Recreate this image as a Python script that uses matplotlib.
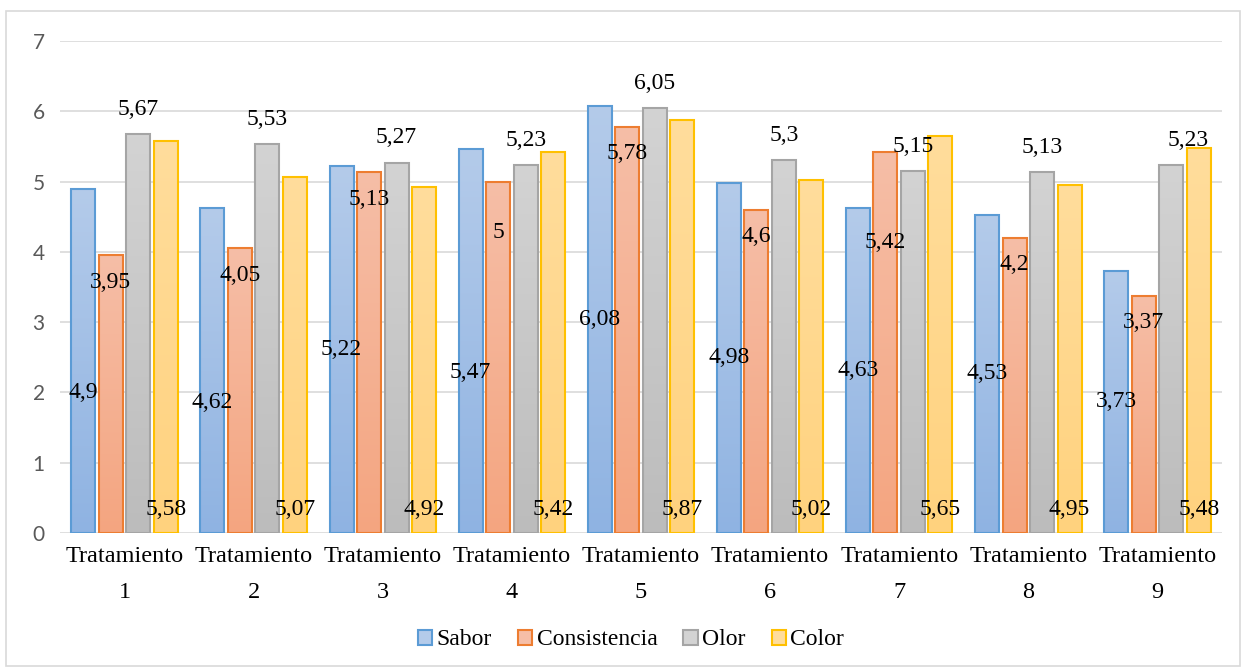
import matplotlib
matplotlib.use('Agg')
import matplotlib.pyplot as plt
import numpy as np
from matplotlib.colors import LinearSegmentedColormap
from matplotlib.patches import Rectangle, Patch

categories = ['Tratamiento\n1', 'Tratamiento\n2', 'Tratamiento\n3', 'Tratamiento\n4',
              'Tratamiento\n5', 'Tratamiento\n6', 'Tratamiento\n7', 'Tratamiento\n8',
              'Tratamiento\n9']
sabor = [4.9, 4.62, 5.22, 5.47, 6.08, 4.98, 4.63, 4.53, 3.73]
consistencia = [3.95, 4.05, 5.13, 5.0, 5.78, 4.6, 5.42, 4.2, 3.37]
olor = [5.67, 5.53, 5.27, 5.23, 6.05, 5.3, 5.15, 5.13, 5.23]
color = [5.58, 5.07, 4.92, 5.42, 5.87, 5.02, 5.65, 4.95, 5.48]

series = [
    ('Sabor', sabor, '#5b9bd5', '#b4cbea', '#8fb3e2'),
    ('Consistencia', consistencia, '#ed7d31', '#f6bea7', '#f4a580'),
    ('Olor', olor, '#a5a5a5', '#d3d3d3', '#bcbcbc'),
    ('Color', color, '#ffc000', '#ffdd9c', '#ffd27e'),
]

serif = ['Liberation Serif', 'DejaVu Serif']
sans = ['Lato', 'DejaVu Sans']

fig = plt.figure(figsize=(12.42, 6.70), dpi=100)
ax = fig.add_axes([60 / 1242, 137 / 670, 1162 / 1242, 492 / 670])

x = np.arange(len(categories))
stride = 0.213
width = 0.186

bars = []
for i, (name, vals, edge, top, bottom) in enumerate(series):
    off = (i - 1.5) * stride
    b = ax.bar(x + off, vals, width, facecolor='none', edgecolor=edge,
               linewidth=1.5, zorder=3)
    cmap = LinearSegmentedColormap.from_list(name, [bottom, top])
    grad = np.linspace(0, 1, 128).reshape(-1, 1)
    for p in b.patches:
        x0, h = p.get_x(), p.get_height()
        ax.imshow(grad, cmap=cmap, origin='lower', aspect='auto',
                  extent=(x0, x0 + p.get_width(), 0, h), zorder=2,
                  interpolation='bilinear')
    bars.append(b)

# data labels: Sabor centred, Consistencia inside end, Olor above, Color at base
nudge = {(0, 0): -0.45, (0, 1): -0.45, (0, 3): -0.45, (1, 3): -0.35, (1, 6): -0.9}
xnudge = {(2, 8): 0.13}
for i, (name, vals, edge, top, bottom) in enumerate(series):
    for j, v in enumerate(vals):
        if i == 0:
            y = v / 2
        elif i == 1:
            y = v - 0.38
        elif i == 2:
            y = v + 0.35
        else:
            y = 0.34
        y += nudge.get((i, j), 0)
        xc = x[j] + (i - 1.5) * stride + xnudge.get((i, j), 0)
        ax.text(xc, y, f'{v:g}'.replace('.', ','), ha='center', va='center',
                fontsize=17, family=serif, color='black', zorder=5)

ax.set_xlim(-0.5, len(categories) - 0.5)
ax.set_ylim(0, 7)
ax.set_yticks(range(0, 8))
ax.yaxis.grid(True, color='#d9d9d9', linewidth=1.2, zorder=0)
ax.set_axisbelow(True)
for s in ax.spines.values():
    s.set_visible(False)
ax.tick_params(axis='both', length=0)
ax.tick_params(axis='y', pad=11, labelcolor='#595959', labelsize=15)
ax.tick_params(axis='x', pad=9)
ax.set_xticks(x)
ax.set_xticklabels(categories, fontsize=17.5, family=serif, linespacing=2.0)
for t in ax.get_yticklabels():
    t.set_family(sans)

handles = [Patch(facecolor=s[3], edgecolor=s[2], linewidth=1.5, label=s[0]) for s in series]
fig.legend(handles=handles, loc='center', bbox_to_anchor=(0.508, 0.045), ncol=4,
           frameon=False, prop={'family': serif, 'size': 17}, handlelength=0.6,
           handleheight=0.6, handletextpad=0.2, columnspacing=1.1)

fig.patches.append(Rectangle((6 / 1242, 4 / 670), 1234 / 1242, 655 / 670,
                             transform=fig.transFigure, fill=False,
                             edgecolor='#d9d9d9', linewidth=1.2))

fig.savefig('out.png', dpi=100)
plt.close()
